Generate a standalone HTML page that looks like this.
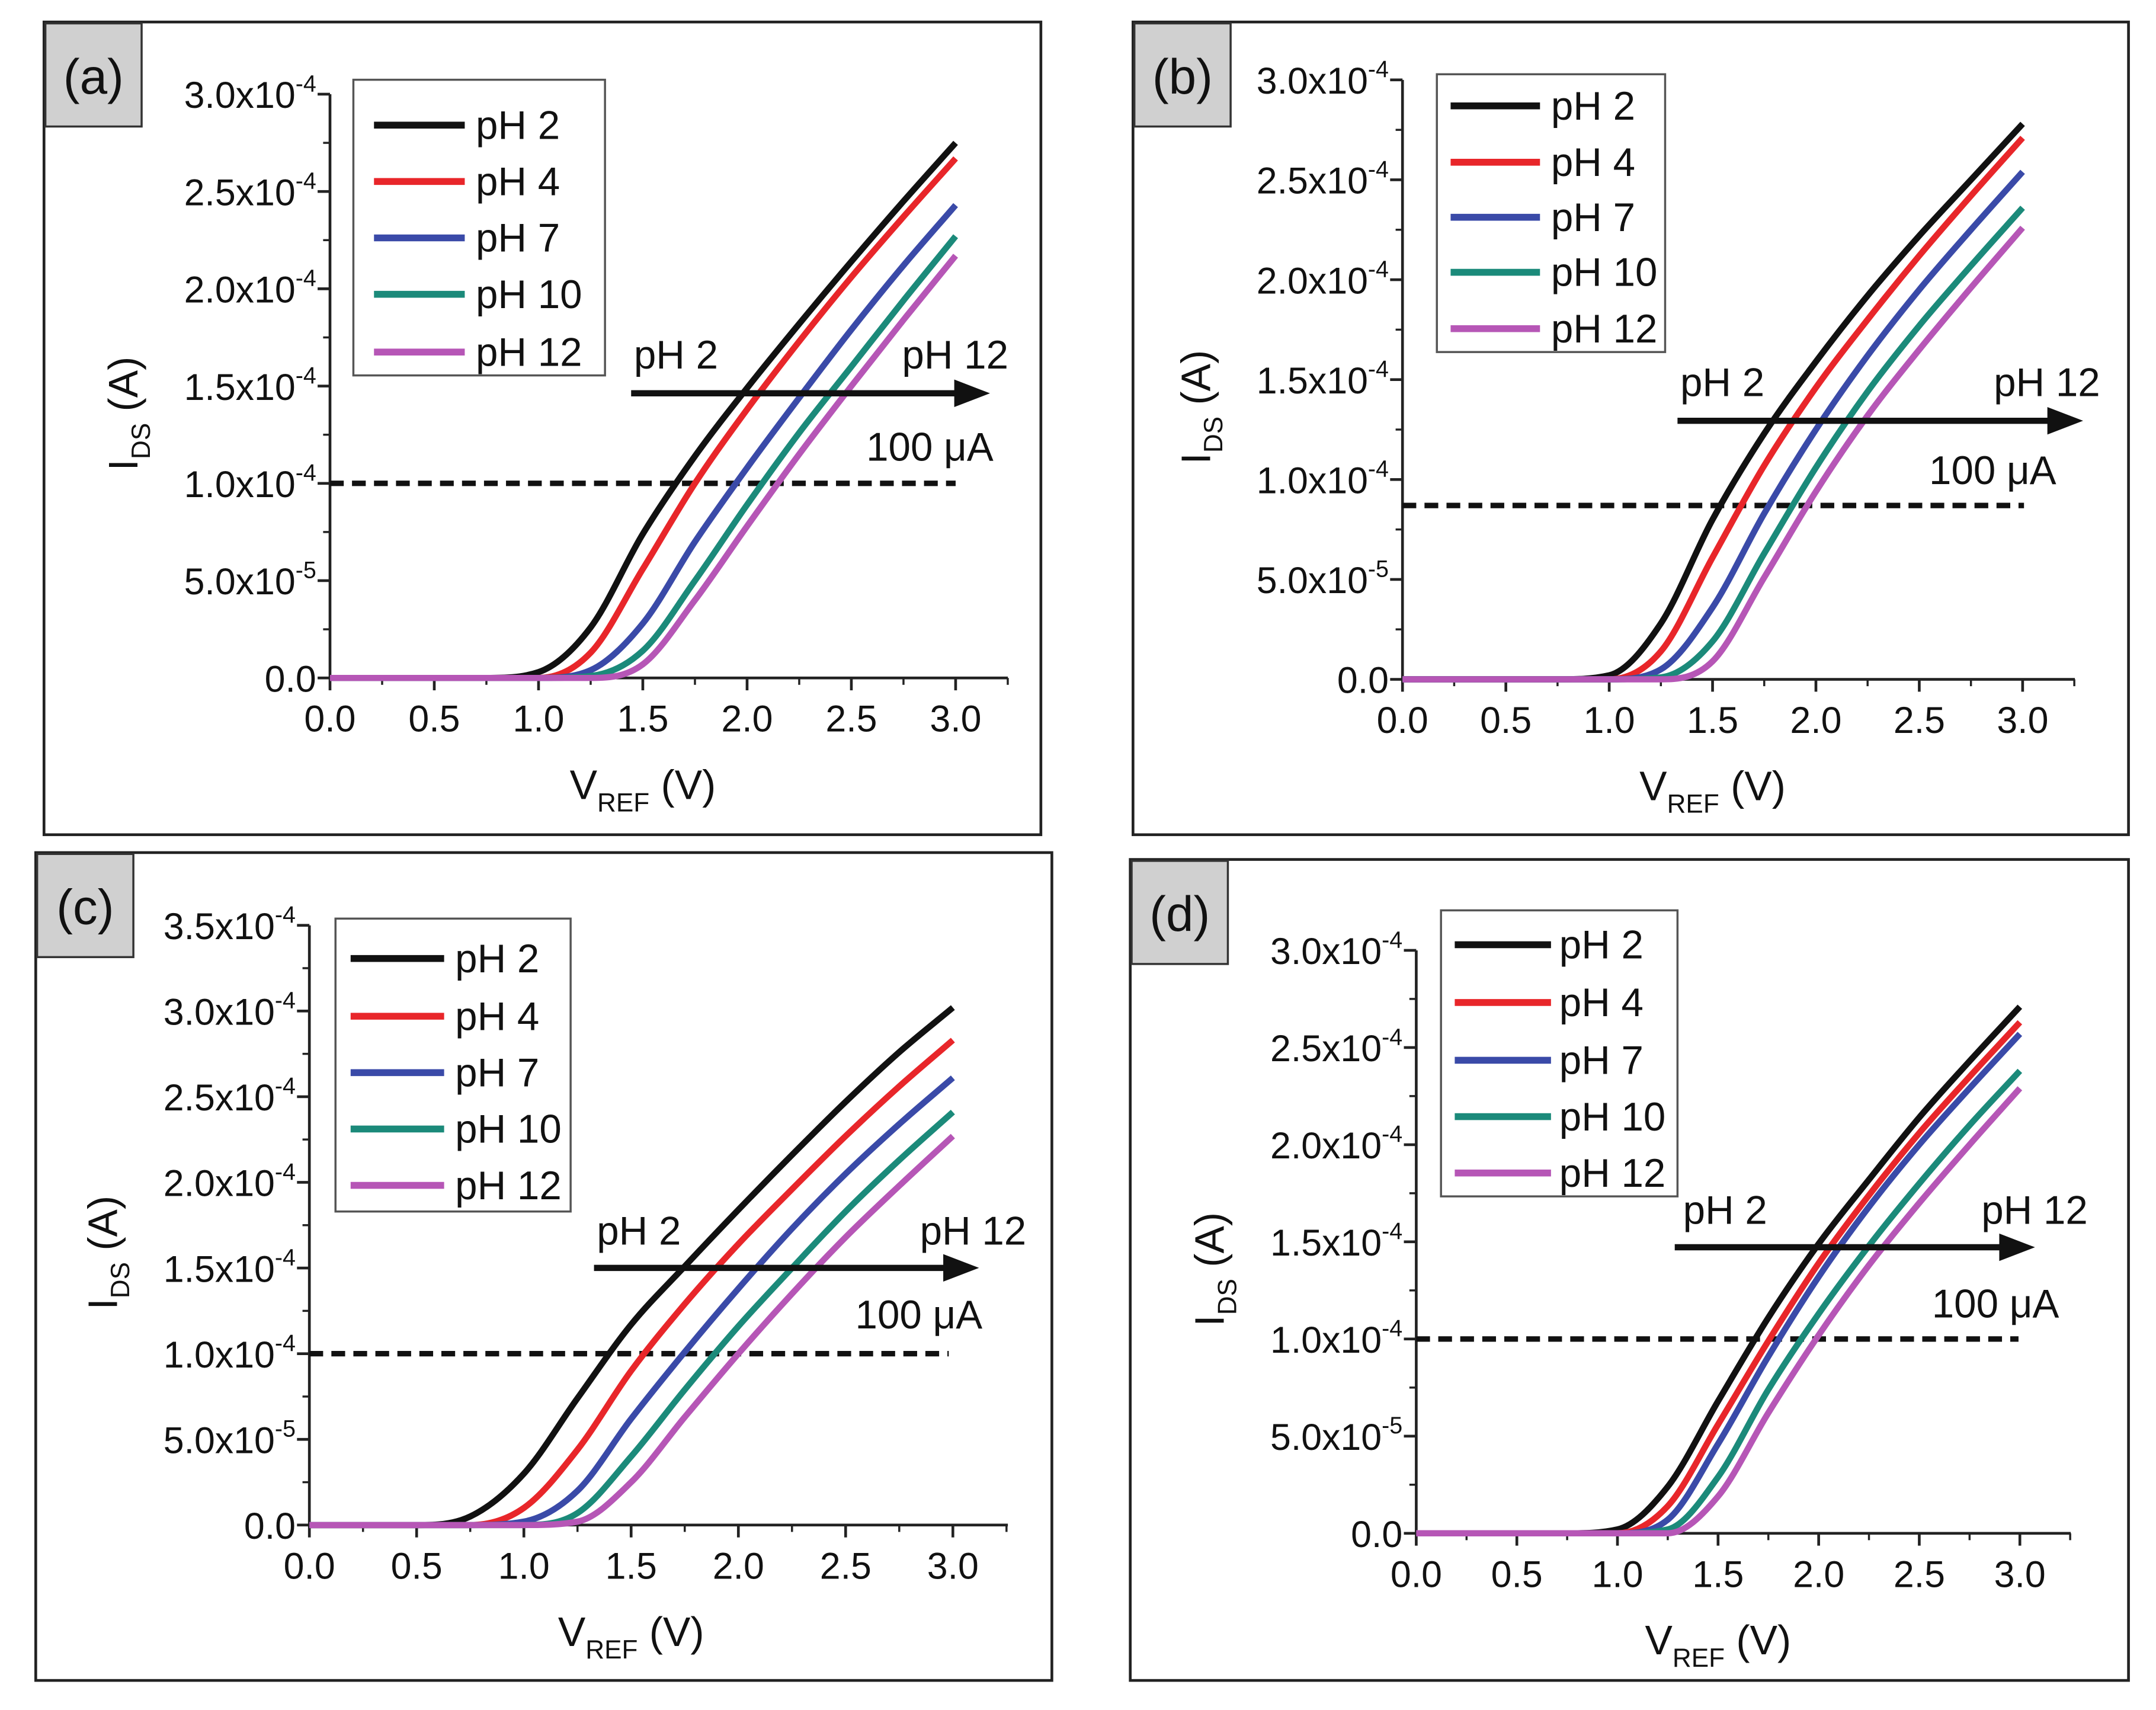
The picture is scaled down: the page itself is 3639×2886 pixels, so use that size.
<!DOCTYPE html>
<html><head><meta charset="utf-8"><style>
html,body{margin:0;padding:0;background:#fff}
svg{display:block;font-family:"Liberation Sans",sans-serif}
</style></head><body>
<svg id="fig" xmlns="http://www.w3.org/2000/svg" width="3639" height="2886" viewBox="0 0 1568 1243.5" preserveAspectRatio="none"></svg>
<script>
const voltages=[0,0.5,0.75,1.0,1.25,1.5,1.75,2.0,2.25,2.5,2.75,3.0];
const seriesNames=["pH 2","pH 4","pH 7","pH 10","pH 12"];
const colors=["#111111","#e8262a","#3a4aa8","#1b8a7a","#b656b6"];
// currents in units of 1e-4 A
const aPH2=[0,0,0,0.03,0.26,0.74,1.14,1.49,1.82,2.14,2.45,2.75];
const aPH4=[0,0,0,0,0.13,0.56,1.0,1.38,1.73,2.06,2.37,2.67];
const aPH7=[0,0,0,0,0.04,0.28,0.7,1.08,1.44,1.79,2.12,2.43];
const aPH10=[0,0,0,0,0.01,0.14,0.5,0.89,1.26,1.6,1.94,2.27];
const aPH12=[0,0,0,0,0,0.07,0.4,0.78,1.15,1.5,1.84,2.17];
const bPH2=[0,0,0,0.02,0.28,0.8,1.23,1.59,1.92,2.22,2.5,2.78];
const bPH4=[0,0,0,0,0.14,0.61,1.07,1.46,1.8,2.12,2.42,2.71];
const bPH7=[0,0,0,0,0.05,0.36,0.83,1.25,1.62,1.95,2.25,2.54];
const bPH10=[0,0,0,0,0.01,0.19,0.63,1.06,1.44,1.77,2.07,2.36];
const bPH12=[0,0,0,0,0,0.09,0.51,0.94,1.32,1.65,1.96,2.26];
const cPH2=[0,0,0.05,0.3,0.74,1.17,1.51,1.84,2.16,2.47,2.76,3.02];
const cPH4=[0,0,0,0.1,0.44,0.9,1.29,1.64,1.96,2.27,2.56,2.83];
const cPH7=[0,0,0,0.02,0.2,0.62,1.01,1.38,1.73,2.05,2.34,2.61];
const cPH10=[0,0,0,0,0.07,0.4,0.79,1.16,1.5,1.83,2.13,2.41];
const cPH12=[0,0,0,0,0.02,0.25,0.63,1.0,1.35,1.68,1.98,2.27];
const dPH2=[0,0,0,0.02,0.24,0.68,1.11,1.49,1.82,2.14,2.43,2.71];
const dPH4=[0,0,0,0,0.14,0.56,0.99,1.39,1.74,2.06,2.35,2.63];
const dPH7=[0,0,0,0,0.07,0.46,0.91,1.32,1.68,2.0,2.29,2.57];
const dPH10=[0,0,0,0,0.02,0.29,0.74,1.13,1.48,1.8,2.1,2.38];
const dPH12=[0,0,0,0,0,0.19,0.62,1.02,1.38,1.7,2.0,2.29];
const xTicks=[0,0.5,1.0,1.5,2.0,2.5,3.0];
const xTickLabels=["0.0","0.5","1.0","1.5","2.0","2.5","3.0"];
const yTicks3=[0,0.5,1.0,1.5,2.0,2.5,3.0];
const yTicks35=[0,0.5,1.0,1.5,2.0,2.5,3.0,3.5];
const yMant=["0.0","5.0x10","1.0x10","1.5x10","2.0x10","2.5x10","3.0x10","3.5x10"];
const yExp=["","-5","-4","-4","-4","-4","-4","-4"];
const refLevelA=1.0, refLevelB=0.87, refLevelC=1.0, refLevelD=1.0;

const NS="http://www.w3.org/2000/svg";
const svg=document.getElementById('fig');
function el(tag,attrs,parent){const e=document.createElementNS(NS,tag);for(const k in attrs)e.setAttribute(k,attrs[k]);(parent||svg).appendChild(e);return e;}

const panels=[
 {id:"a",data:[aPH2,aPH4,aPH7,aPH10,aPH12],frame:[32,16,725,591],x0:240,x1:695,xEnd:733,y0:493,py:141.5,yt:yTicks3,ref:refLevelA,
  leg:[257,58,183,215],rows:[91,132,173,214,256],lx:[272,338],tx:346,arrow:[459,720,286],t2:[461,268],t12:[656,268],tua:[630,335],dashEnd:695},
 {id:"b",data:[bPH2,bPH4,bPH7,bPH10,bPH12],frame:[824,16,724,591],x0:1020,x1:1471,xEnd:1509,y0:494,py:145.3,yt:yTicks3,ref:refLevelB,
  leg:[1045,54,166,202],rows:[77,118,158,198,239],lx:[1055,1120],tx:1128,arrow:[1220,1515,306],t2:[1222,288],t12:[1450,288],tua:[1403,352],dashEnd:1472},
 {id:"c",data:[cPH2,cPH4,cPH7,cPH10,cPH12],frame:[26,620,739,602],x0:225,x1:693,xEnd:733,y0:1109,py:124.6,yt:yTicks35,ref:refLevelC,
  leg:[244,668,171,213],rows:[697,739,780,821,862],lx:[255,323],tx:331,arrow:[432,712,922],t2:[434,905],t12:[669,905],tua:[622,966],dashEnd:690},
 {id:"d",data:[dPH2,dPH4,dPH7,dPH10,dPH12],frame:[822,625,726,597],x0:1030,x1:1469,xEnd:1506,y0:1115,py:141.3,yt:yTicks3,ref:refLevelD,
  leg:[1048,662,172,208],rows:[687,729,771,812,853],lx:[1058,1128],tx:1134,arrow:[1218,1480,907],t2:[1224,890],t12:[1441,890],tua:[1405,958],dashEnd:1468}
];

function monoPath(pts){
  const n=pts.length, d=[], m=[];
  for(let i=0;i<n-1;i++) d.push((pts[i+1][1]-pts[i][1])/(pts[i+1][0]-pts[i][0]));
  m.push(d[0]);
  for(let i=1;i<n-1;i++) m.push(d[i-1]*d[i]<=0?0:(d[i-1]+d[i])/2);
  m.push(d[n-2]);
  for(let i=0;i<n-1;i++){
    if(d[i]===0){m[i]=0;m[i+1]=0;continue;}
    const a=m[i]/d[i], b=m[i+1]/d[i], s=a*a+b*b;
    if(s>9){const t=3/Math.sqrt(s);m[i]=t*a*d[i];m[i+1]=t*b*d[i];}
  }
  let p="M"+pts[0][0].toFixed(2)+","+pts[0][1].toFixed(2);
  for(let i=0;i<n-1;i++){
    const h=(pts[i+1][0]-pts[i][0])/3;
    p+=" C"+(pts[i][0]+h).toFixed(2)+","+(pts[i][1]+m[i]*h).toFixed(2)+" "+(pts[i+1][0]-h).toFixed(2)+","+(pts[i+1][1]-m[i+1]*h).toFixed(2)+" "+pts[i+1][0].toFixed(2)+","+pts[i+1][1].toFixed(2);
  }
  return p;
}

panels.forEach(P=>{
  const g=el('g',{});
  
  
  const xs=v=>P.x0+(P.x1-P.x0)*v/3;
  const ys=v=>P.y0-P.py*v;
  const yTop=ys(P.yt[P.yt.length-1]);
  const fr=el('rect',{x:P.frame[0],y:P.frame[1],width:P.frame[2],height:P.frame[3],fill:'none',stroke:'#222','stroke-width':2},g);
  
  
  const lb=el('rect',{x:P.frame[0]+1,y:P.frame[1]+1,width:70,height:75,fill:'#d0d0d0',stroke:'#333','stroke-width':1.5},g);
  
  
  const lt=el('text',{x:P.frame[0]+36,y:P.frame[1]+52,'font-size':36,'text-anchor':'middle',fill:'#111'},g);
  lt.textContent='('+P.id+')';
  
  
  const ax=el('path',{d:`M${P.x0},${yTop}V${P.y0}H${P.xEnd}`,fill:'none',stroke:'#222','stroke-width':2},g);
  
  
  xTicks.forEach((v,i)=>{
    el('line',{x1:xs(v),x2:xs(v),y1:P.y0,y2:P.y0+9,stroke:'#222','stroke-width':2},g);
    if(i<xTicks.length-1) el('line',{x1:xs(v+0.25),x2:xs(v+0.25),y1:P.y0,y2:P.y0+5,stroke:'#222','stroke-width':1.5},g);
    const t=el('text',{x:xs(v),y:P.y0+39,'font-size':27,'text-anchor':'middle',fill:'#111'},g);
    t.textContent=xTickLabels[i];
    
    
  });
  el('line',{x1:xs(3.25),x2:xs(3.25),y1:P.y0,y2:P.y0+5,stroke:'#222','stroke-width':1.5},g);
  P.yt.forEach((v,i)=>{
    el('line',{x1:P.x0-9,x2:P.x0,y1:ys(v),y2:ys(v),stroke:'#222','stroke-width':2},g);
    if(i<P.yt.length-1) el('line',{x1:P.x0-5,x2:P.x0,y1:ys(v+0.25),y2:ys(v+0.25),stroke:'#222','stroke-width':1.5},g);
    const t=el('text',{x:P.x0-10,y:ys(v)+10,'font-size':27,'text-anchor':'end',fill:'#111'},g);
    
    
    if(i===0){t.textContent=yMant[0];}
    else{
      const m=el('tspan',{},t);m.textContent=yMant[i];
      const e=el('tspan',{dy:-12,'font-size':17},t);e.textContent=yExp[i];
    }
  });
  const xt=el('text',{x:(P.x0+P.x1)/2,y:P.y0+88,'font-size':30,'text-anchor':'middle',fill:'#111'},g);
  
  
  let s=el('tspan',{},xt);s.textContent='V';
  s=el('tspan',{dy:9,'font-size':19},xt);s.textContent='REF';
  s=el('tspan',{dy:-9},xt);s.textContent=' (V)';
  const ymid=(P.y0+yTop)/2+20;
  const yt=el('text',{x:0,y:0,'font-size':30,'text-anchor':'middle',fill:'#111',transform:`translate(${P.x0-140},${ymid}) rotate(-90)`},g);
  
  
  s=el('tspan',{},yt);s.textContent='I';
  s=el('tspan',{dy:9,'font-size':19},yt);s.textContent='DS';
  s=el('tspan',{dy:-9},yt);s.textContent=' (A)';
  const dl=el('line',{x1:P.x0,x2:P.dashEnd,y1:ys(P.ref),y2:ys(P.ref),stroke:'#111','stroke-width':4,'stroke-dasharray':'10,6'},g);
  
  
  P.data.forEach((arr,k)=>{
    const pts=voltages.map((v,i)=>[xs(v),ys(arr[i])]);
    const p=el('path',{d:monoPath(pts),fill:'none',stroke:colors[k],'stroke-width':4.5,'stroke-linejoin':'round'},g);
    
    
  });
  const [ax1,ax2,ay]=P.arrow;
  const ar=el('line',{x1:ax1,x2:ax2-18,y1:ay,y2:ay,stroke:'#111','stroke-width':4.5},g);
  
  
  el('polygon',{points:`${ax2},${ay} ${ax2-26},${ay-10} ${ax2-26},${ay+10}`,fill:'#111'},g);
  const a2=el('text',{x:P.t2[0],y:P.t2[1],'font-size':29,fill:'#111'},g);a2.textContent='pH 2';
  
  
  const a12=el('text',{x:P.t12[0],y:P.t12[1],'font-size':29,fill:'#111'},g);a12.textContent='pH 12';
  
  
  const ua=el('text',{x:P.tua[0],y:P.tua[1],'font-size':29,fill:'#111'},g);ua.textContent='100 μA';
  
  
  const lg=el('g',{},g);
  
  
  el('rect',{x:P.leg[0],y:P.leg[1],width:P.leg[2],height:P.leg[3],fill:'#fff',stroke:'#555','stroke-width':1.5},lg);
  seriesNames.forEach((n,k)=>{
    const e=el('g',{},lg);
    
    
    el('line',{x1:P.lx[0],x2:P.lx[1],y1:P.rows[k],y2:P.rows[k],stroke:colors[k],'stroke-width':5},e);
    const t=el('text',{x:P.tx,y:P.rows[k]+10,'font-size':29,fill:'#111'},e);t.textContent=n;
  });
});
</script>
</body></html>
